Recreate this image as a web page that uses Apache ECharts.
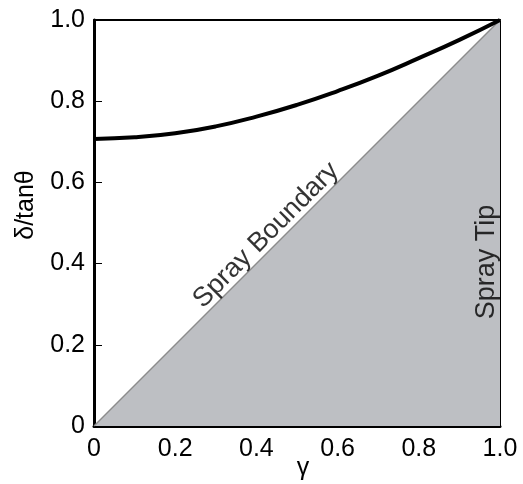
<!DOCTYPE html>
<html><head><meta charset="utf-8">
<script src="https://cdn.jsdelivr.net/npm/echarts@6/dist/echarts.min.js"></script>
<style>html,body{margin:0;padding:0;background:#fff;overflow:hidden}#c{width:523px;height:484px;display:block}</style>
</head><body><div id="c"></div>
<script>
// Data
const gamma = [0, 0.1, 0.2, 0.3, 0.4, 0.5, 0.6, 0.7, 0.8, 0.9, 1.0];
const deltaOverTan = [0.707, 0.711, 0.721, 0.738, 0.762, 0.791, 0.825, 0.863, 0.906, 0.951, 1.0];
const boundaryX = [0, 1];
const boundaryY = [0, 1];
const tickValues = [0, 0.2, 0.4, 0.6, 0.8, 1.0];
const tickLabels = ['0', '0.2', '0.4', '0.6', '0.8', '1.0'];
const annotations = [
  {name: 'Spray Boundary', x: 0.424, y: 0.47, rotate: 45},
  {name: 'Spray Tip', x: 0.968, y: 0.404, rotate: 90}
];

const FONT = 'Liberation Sans, Arial, Helvetica, sans-serif';
function fmt(v){ const i = tickValues.findIndex(t => Math.abs(t - v) < 1e-9); return i >= 0 ? tickLabels[i] : ''; }

const chart = echarts.init(document.getElementById('c'), null, {renderer: 'canvas'});
chart.setOption({
  animation: false,
  backgroundColor: '#fff',
  grid: {left: 94, top: 20, width: 406, height: 406, containLabel: false, outerBoundsMode: 'none'},
  xAxis: [{
    type: 'value', min: 0, max: 1, interval: 0.2,
    name: 'γ', nameLocation: 'middle', nameGap: 30, nameMoveOverlap: false,
    nameTextStyle: {fontFamily: FONT, fontSize: 25, color: '#000', padding: [0, 0, 0, 12]},
    axisLine: {show: true, onZero: false, lineStyle: {color: '#000', width: 3}},
    axisTick: {show: true, inside: true, length: 8, lineStyle: {color: '#000', width: 1}},
    axisLabel: {formatter: fmt, fontFamily: FONT, fontSize: 25, color: '#000', margin: 11},
    splitLine: {show: false}
  }, {
    type: 'value', min: 0, max: 1, position: 'top',
    axisLine: {show: true, onZero: false, lineStyle: {color: '#000', width: 2}},
    axisTick: {show: false}, axisLabel: {show: false}, splitLine: {show: false}
  }],
  yAxis: [{
    type: 'value', min: 0, max: 1, interval: 0.2,
    name: 'δ/tanθ', nameLocation: 'middle', nameGap: 55, nameRotate: 90,
    nameTextStyle: {fontFamily: FONT, fontSize: 25, color: '#000', padding: [0, 0, 0, 36]},
    axisLine: {show: true, onZero: false, lineStyle: {color: '#000', width: 3}},
    axisTick: {show: true, inside: true, length: 8, lineStyle: {color: '#000', width: 1}},
    axisLabel: {formatter: fmt, fontFamily: FONT, fontSize: 25, color: '#000', margin: 9},
    splitLine: {show: false}
  }, {
    type: 'value', min: 0, max: 1, position: 'right',
    axisLine: {show: true, onZero: false, lineStyle: {color: '#000', width: 2}},
    axisTick: {show: false}, axisLabel: {show: false}, splitLine: {show: false}
  }],
  series: [{
    type: 'line', name: 'boundary',
    data: boundaryX.map((x, i) => [x, boundaryY[i]]),
    symbol: 'none', z: 1,
    lineStyle: {color: '#8c8c8c', width: 1.5},
    areaStyle: {color: '#bdbfc3', opacity: 1, origin: 'start'}
  }, {
    type: 'line', name: 'curve',
    data: gamma.map((g, i) => [g, deltaOverTan[i]]),
    symbol: 'none', smooth: true, z: 3,
    lineStyle: {color: '#000', width: 4}
  }, {
    type: 'scatter', name: 'labels', symbolSize: 0, z: 4,
    data: annotations.map(a => ({
      value: [a.x, a.y], name: a.name,
      label: {show: true, position: 'inside', formatter: a.name, rotate: a.rotate,
        fontFamily: FONT, fontSize: 27, color: '#000', textBorderWidth: 0,
        align: 'center', verticalAlign: 'middle'}
    }))
  }]
});
</script></body></html>
